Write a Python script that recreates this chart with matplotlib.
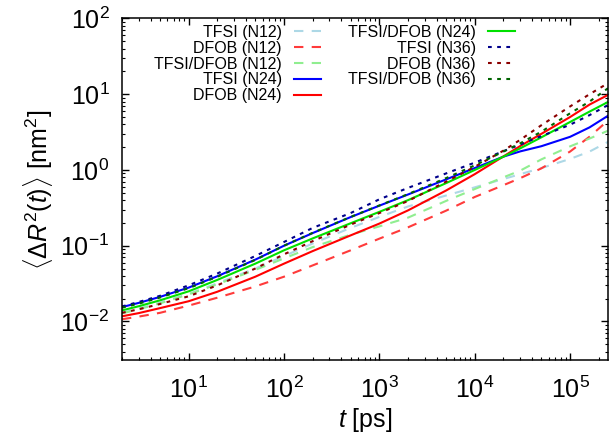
import matplotlib
matplotlib.use("Agg")
import matplotlib.pyplot as plt
from matplotlib.ticker import LogLocator, NullFormatter

plt.rcParams['font.family'] = ['Liberation Sans', 'DejaVu Sans']
plt.rcParams['mathtext.fontset'] = 'custom'
plt.rcParams['mathtext.rm'] = 'Liberation Sans'
plt.rcParams['mathtext.it'] = 'Liberation Sans:italic'
plt.rcParams['mathtext.bf'] = 'Liberation Sans:bold'

# time points (ps)
t = [2, 3, 5, 10, 20, 50, 100, 200, 500, 1000, 2000, 5000,
     1e4, 2e4, 3e4, 5e4, 1e5, 1.6e5, 2.5e5]

# N12 (dashed)
tfsi_n12 = [0.013, 0.0148, 0.0177, 0.0232, 0.032, 0.050, 0.073, 0.107, 0.172, 0.24,
            0.33, 0.46, 0.59, 0.76, 0.88, 1.06, 1.4, 1.75, 2.35]
dfob_n12 = [0.0107, 0.0116, 0.0130, 0.0162, 0.0206, 0.029, 0.039, 0.055, 0.087, 0.124,
            0.175, 0.29, 0.44, 0.63, 0.78, 1.05, 1.75, 2.75, 4.5]
mix_n12 = [0.0128, 0.0145, 0.0173, 0.0228, 0.031, 0.048, 0.068, 0.096, 0.14, 0.18,
           0.235, 0.39, 0.56, 0.80, 0.98, 1.38, 2.05, 2.6, 3.3]
# N24 (solid)
tfsi_n24 = [0.0155, 0.0176, 0.0211, 0.028, 0.0396, 0.0655, 0.100, 0.147, 0.239, 0.338,
            0.475, 0.75, 1.06, 1.5, 1.76, 2.06, 2.74, 3.65, 5.2]
dfob_n24 = [0.0117, 0.0129, 0.0150, 0.0185, 0.0247, 0.039, 0.058, 0.085, 0.137, 0.196,
            0.293, 0.535, 0.88, 1.51, 2.07, 3.0, 5.0, 7.3, 9.8]
mix_n24 = [0.0140, 0.0159, 0.0190, 0.025, 0.0354, 0.058, 0.087, 0.125, 0.198, 0.28,
           0.40, 0.67, 1.0, 1.5, 1.93, 2.7, 4.3, 5.9, 7.9]
# N36 (dotted)
tfsi_n36 = [0.0158, 0.0181, 0.0218, 0.030, 0.043, 0.0732, 0.112, 0.172, 0.27, 0.41,
            0.58, 0.90, 1.25, 1.77, 2.17, 2.8, 3.96, 5.3, 7.2]
dfob_n36 = [0.013, 0.0145, 0.0170, 0.0215, 0.030, 0.050, 0.077, 0.115, 0.19, 0.27,
            0.39, 0.70, 1.1, 1.8, 2.5, 3.9, 6.9, 10, 14]
mix_n36 = [0.0152, 0.0172, 0.0207, 0.0275, 0.039, 0.065, 0.100, 0.148, 0.24, 0.34,
           0.48, 0.78, 1.15, 1.75, 2.25, 3.2, 5.6, 8.0, 12]

labels = ['TFSI (N12)', 'DFOB (N12)', 'TFSI/DFOB (N12)',
          'TFSI (N24)', 'DFOB (N24)', 'TFSI/DFOB (N24)',
          'TFSI (N36)', 'DFOB (N36)', 'TFSI/DFOB (N36)']
series = [tfsi_n12, dfob_n12, mix_n12, tfsi_n24, dfob_n24, mix_n24,
          tfsi_n36, dfob_n36, mix_n36]
colors = ['#add8e6', '#ff3b3b', '#90ee90', '#0000ff', '#ff0000', '#00e000',
          '#00008b', '#8b0000', '#006400']
dash = (0, (4.5, 4))
dot = (0, (1.8, 2.6))
styles = [dash, dash, dash, '-', '-', '-', dot, dot, dot]

fig = plt.figure(figsize=(6.13, 4.48), dpi=100)
ax = fig.add_axes([122/613, 88/448, 486/613, 341.5/448])

for y, lab, c, ls in zip(series, labels, colors, styles):
    ax.plot(t, y, color=c, linestyle=ls, lw=1.5, label=lab)

ax.set_xscale('log')
ax.set_yscale('log')
ax.set_xlim(2, 2.5e5)
ax.set_ylim(0.0031, 100)

ax.xaxis.set_minor_locator(LogLocator(base=10, subs=range(2, 10), numticks=20))
ax.yaxis.set_minor_locator(LogLocator(base=10, subs=range(2, 10), numticks=20))
ax.xaxis.set_minor_formatter(NullFormatter())
ax.yaxis.set_minor_formatter(NullFormatter())
ax.tick_params(which='both', direction='in', top=True, right=True)
ax.tick_params(which='major', length=5, width=1, labelsize=18)
ax.tick_params(which='minor', length=2.5, width=0.8)
ax.tick_params(axis='x', which='major', pad=12)
ax.tick_params(axis='y', which='major', pad=9)
for s in ax.spines.values():
    s.set_linewidth(1.1)

ax.set_xlabel(r'$t$ [ps]', fontsize=18, labelpad=2)
ax.set_ylabel(r'$\langle\Delta R^2(t)\rangle$ [nm$^2$]', fontsize=18, labelpad=4)

leg = ax.legend(ncol=2, loc='upper left', markerfirst=False, frameon=False,
                fontsize=11.5, handlelength=1.7, handletextpad=0.75,
                columnspacing=1.7, labelspacing=0.05, borderpad=0,
                borderaxespad=0,
                bbox_to_anchor=(154/613, 1 - 25/448),
                bbox_transform=fig.transFigure)

fig.savefig('out.png', dpi=100)
